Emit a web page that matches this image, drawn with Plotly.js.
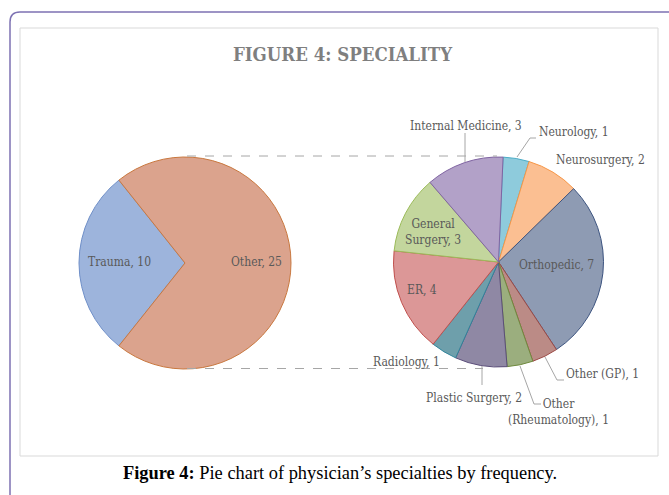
<!DOCTYPE html>
<html><head><meta charset="utf-8">
<script src="https://cdn.plot.ly/plotly-3.0.1.min.js"></script>
<style>html,body{margin:0;padding:0;background:#fff}#chart{width:669px;height:495px}</style>
</head><body><div id="chart"></div>
<script>
// ---- data ----
const mainLabels = ['Trauma', 'Other'];
const mainValues = [10, 25];
const subLabels = ['Neurology', 'Neurosurgery', 'Orthopedic', 'Other (GP)', 'Other (Rheumatology)',
                   'Plastic Surgery', 'Radiology', 'ER', 'General Surgery', 'Internal Medicine'];
const subValues = [1, 2, 7, 1, 1, 2, 1, 4, 3, 3];
const titleText = 'FIGURE 4: SPECIALITY';
const captionBold = 'Figure 4:';
const captionText = ' Pie chart of physician\u2019s specialties by frequency.';

// ---- styles ----
const mainColors = ['#9db4dc', '#dba38d'];
const mainLines = ['#6f8fc8', '#c9783f'];
const subColors = ['#8ecbdc', '#fbbf92', '#8e9bb3', '#bb8b86', '#9bae7e',
                   '#8f88a4', '#6e9fab', '#dc9797', '#c3d69d', '#b2a1c8'];
const subLines = ['#4bacc6', '#f79646', '#3d5480', '#9c4a45', '#6f8a3e',
                  '#5b4e7a', '#31849b', '#c0504d', '#9bbb59', '#8064a2'];

const W = 669, H = 495;
const X = px => px / W;
const Y = py => 1 - py / H;
const lbl = (arr, vals, i) => arr[i] + ', ' + vals[i];

const labelFont = {family: 'DejaVu Serif Condensed, DejaVu Serif, serif', size: 12, color: '#595959'};

const traces = [
  {
    type: 'pie', labels: mainLabels, values: mainValues, sort: false, direction: 'clockwise',
    rotation: 360 * (0.75 - mainValues[0] / (2 * (mainValues[0] + mainValues[1]))),
    marker: {colors: mainColors, line: {color: mainLines, width: 1}},
    textinfo: 'none', hoverinfo: 'skip', showlegend: false,
    domain: {x: [X(79), X(291)], y: [Y(369), Y(157)]}
  },
  {
    type: 'pie', labels: subLabels, values: subValues, sort: false, direction: 'clockwise',
    rotation: 2.5,
    marker: {colors: subColors, line: {color: subLines, width: 1}},
    textinfo: 'none', hoverinfo: 'skip', showlegend: false,
    domain: {x: [X(393.5), X(603.5)], y: [Y(367.5), Y(156.5)]}
  }
];

function path(pts) {
  return 'M' + pts.map(p => X(p[0]) + ',' + Y(p[1])).join(' L');
}

const shapes = [
  // outer purple frame
  {type: 'path', xref: 'paper', yref: 'paper',
   path: 'M' + X(10) + ',' + Y(500) + ' L' + X(10) + ',' + Y(22) + ' Q' + X(10) + ',' + Y(12) + ' ' + X(20) + ',' + Y(12) + ' L' + X(680) + ',' + Y(12),
   line: {color: '#7d72b3', width: 1.5}},
  // inner chart box
  {type: 'rect', xref: 'paper', yref: 'paper', x0: X(20), x1: X(658), y0: Y(456), y1: Y(28),
   line: {color: '#d9d9d9', width: 1}},
  // dashed connectors
  {type: 'line', xref: 'paper', yref: 'paper', x0: X(187), x1: X(497), y0: Y(156), y1: Y(156),
   line: {color: '#a6a6a6', width: 1, dash: 'dash'}},
  {type: 'line', xref: 'paper', yref: 'paper', x0: X(187), x1: X(483), y0: Y(368.5), y1: Y(368.5),
   line: {color: '#a6a6a6', width: 1, dash: 'dash'}},
  // leader lines
  {type: 'path', xref: 'paper', yref: 'paper', path: path([[465, 133], [465, 162]]), line: {color: '#a6a6a6', width: 1}},
  {type: 'path', xref: 'paper', yref: 'paper', path: path([[536, 138], [530, 138], [517, 157]]), line: {color: '#a6a6a6', width: 1}},
  {type: 'path', xref: 'paper', yref: 'paper', path: path([[482, 385], [482, 366]]), line: {color: '#a6a6a6', width: 1}},
  {type: 'path', xref: 'paper', yref: 'paper', path: path([[541, 404], [534, 404], [520, 366]]), line: {color: '#a6a6a6', width: 1}},
  {type: 'path', xref: 'paper', yref: 'paper', path: path([[564, 380], [557, 380], [545, 357]]), line: {color: '#a6a6a6', width: 1}}
];

function ann(text, x, y, extra) {
  return Object.assign({text: text, x: X(x), y: Y(y), xref: 'paper', yref: 'paper',
    showarrow: false, xanchor: 'center', yanchor: 'middle', font: labelFont}, extra || {});
}

const annotations = [
  ann(lbl(mainLabels, mainValues, 0), 119, 262),
  ann(lbl(mainLabels, mainValues, 1), 256, 262),
  ann(lbl(subLabels, subValues, 9), 466, 126),
  ann(lbl(subLabels, subValues, 0), 574, 132),
  ann(lbl(subLabels, subValues, 1), 600, 160),
  ann(subLabels[8].replace(' ', '<br>') + ', ' + subValues[8], 433, 232),
  ann(lbl(subLabels, subValues, 2), 556, 265),
  ann(lbl(subLabels, subValues, 7), 422, 290),
  ann(lbl(subLabels, subValues, 6), 406, 362),
  ann(lbl(subLabels, subValues, 5), 474, 398),
  ann(subLabels[4].replace(' ', '<br>') + ', ' + subValues[4], 558, 412),
  ann(lbl(subLabels, subValues, 3), 602, 374),
  ann('<b>' + titleText + '</b>', 343, 54,
      {font: {family: 'DejaVu Serif Condensed, DejaVu Serif, serif', size: 18.5, color: '#7f7f7f'}}),
  ann('<b>' + captionBold + '</b>' + captionText, 340, 473,
      {font: {family: 'Liberation Serif, Times New Roman, serif', size: 18.4, color: '#000000'}})
];

const layout = {
  width: W, height: H,
  margin: {l: 0, r: 0, t: 0, b: 0},
  paper_bgcolor: '#ffffff', plot_bgcolor: '#ffffff',
  showlegend: false,
  shapes: shapes,
  annotations: annotations
};

Plotly.newPlot('chart', traces, layout, {displayModeBar: false, staticPlot: true});
</script>
</body></html>
